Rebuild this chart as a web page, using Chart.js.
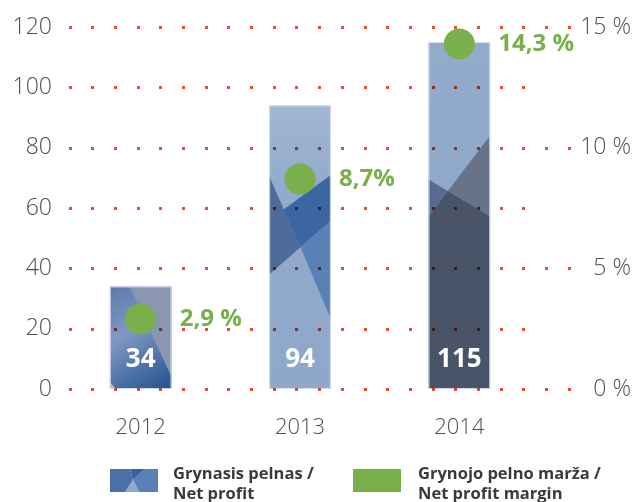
<!DOCTYPE html>
<html>
<head>
<meta charset="utf-8">
<script src="https://cdn.jsdelivr.net/npm/chart.js@4/dist/chart.umd.min.js"></script>
<style>
  body { margin: 0; background: #fff; }
  #wrap { position: relative; width: 636px; height: 502px; overflow: hidden; }
  .sw { position: absolute; top: 469px; width: 48px; height: 23px; }
  .lt { position: absolute; top: 463px; font: 700 16.5px 'Open Sans', sans-serif; line-height: 20px; color: #3a3a3a; white-space: nowrap; }
</style>
</head>
<body>
<div id="wrap">
  <canvas id="chart"></canvas>
  <svg class="sw" style="left:110px" width="48" height="23">
    <polygon points="0,0 20,0 23,11 15,23 0,23" fill="#4b6fa7"/>
    <polygon points="20,0 35,0 23,11" fill="#3464a4"/>
    <polygon points="35,0 48,0 48,23 29,23 23,11" fill="#5a80b7"/>
    <polygon points="15,23 23,11 29,23" fill="#8ea7cc"/>
  </svg>
  <div class="lt" id="lt0" style="left:173px"></div>
  <div class="sw" style="left:353px; background:#7ab04b"></div>
  <div class="lt" id="lt1" style="left:418px"></div>
</div>
<script>
let years = ['2012', '2013', '2014'];
let netProfit = [34, 94, 115];
let netMargin = [2.9, 8.7, 14.3];
let marginLabels = ['2,9 %', '8,7%', '14,3 %'];
let profitTicks = [0, 20, 40, 60, 80, 100, 120];
let marginTicks = [0, 5, 10, 15];
let legendLines = [['Grynasis pelnas /', 'Net profit'], ['Grynojo pelno marža /', 'Net profit margin']];

const GREEN = '#7ab04b';
const GREY = '#4f4f4f';

legendLines.forEach((lines, i) => {
    document.getElementById('lt' + i).innerHTML = lines.join('<br>');
});

// facet decoration inside each bar, in fractions of the bar (u across, v down)
const barStyles = [
    { grad: [[0, 0], [1, 1]], stops: [[0, '#5878ad'], [0.4, '#8199c3'], [1, '#22508f']],
      facets: [
        ['#8a97b1', [[0.32, 0], [1, 0], [1, 0.88]]],
        ['#a9b9d3', [[0, 0.93], [0.1, 1], [0, 1]]]
      ] },
    { grad: [[0, 0], [0, 1]], stops: [[0, '#a2b6d3'], [0.3, '#91aacb'], [1, '#8fa8ca']],
      facets: [
        ['#4e6b9a', [[0, 0.249], [0.508, 0.5], [0, 0.596]]],
        ['#3b66a2', [[0.234, 0.367], [1, 0.245], [1, 0.407], [0.508, 0.5]]],
        ['#5b80b5', [[0.508, 0.5], [1, 0.407], [1, 0.753]]]
      ] },
    { grad: [[0, 0], [0, 1]], stops: [[0, '#93abca'], [1, '#8ea7c8']],
      facets: [
        ['#5a6a90', [[0, 0.396], [0.313, 0.429], [0, 0.502]]],
        ['#687388', [[0.313, 0.429], [1, 0.269], [1, 0.502]]],
        ['#4a5469', [[0, 0.502], [0.313, 0.429], [1, 0.502], [1, 1], [0, 1]]]
      ] }
];

const barDecor = {
    id: 'barDecor',
    afterDatasetDraw(chart, args) {
        if (args.index !== 0) return;
        const ctx = chart.ctx;
        args.meta.data.forEach((bar, i) => {
            const p = bar.getProps(['x', 'y', 'base', 'width'], true);
            const l = p.x - p.width / 2, t = p.y, w = p.width, h = p.base - p.y;
            const st = barStyles[i];
            const pt = (u, v) => [l + u * w, t + v * h];
            ctx.save();
            ctx.beginPath();
            ctx.rect(l, t, w, h);
            ctx.clip();
            const a = pt(...st.grad[0]), b = pt(...st.grad[1]);
            const g = ctx.createLinearGradient(a[0], a[1], b[0], b[1]);
            st.stops.forEach(s => g.addColorStop(s[0], s[1]));
            ctx.fillStyle = g;
            ctx.fillRect(l, t, w, h);
            st.facets.forEach(f => {
                ctx.fillStyle = f[0];
                ctx.beginPath();
                f[1].forEach((q, k) => {
                    const c = pt(q[0], q[1]);
                    if (k) ctx.lineTo(c[0], c[1]); else ctx.moveTo(c[0], c[1]);
                });
                ctx.closePath();
                ctx.fill();
            });
            ctx.restore();
            ctx.strokeStyle = 'rgba(222,230,242,0.9)';
            ctx.lineWidth = 1;
            ctx.strokeRect(l + 0.5, t + 0.5, w - 1, h - 1);
        });

        // dotted grid, drawn over the bars
        const ys = chart.scales.y, yr = chart.scales.y1, area = chart.chartArea;
        ctx.save();
        ctx.globalCompositeOperation = 'multiply';
        ctx.fillStyle = '#e2502f';
        ys.ticks.forEach(tk => {
            const y = Math.round(ys.getPixelForValue(tk.value));
            const long = yr.ticks.some(r => Math.abs(yr.getPixelForValue(r.value) - y) < 1.5);
            const end = long ? area.right + 33 : area.right - 12;
            for (let x = area.left + 8.5; x <= end; x += 22.7) {
                ctx.fillRect(Math.round(x) - 1, y - 1, 3, 3);
            }
        });
        ctx.restore();

        // values inside the bars
        ctx.save();
        ctx.fillStyle = '#fff';
        ctx.font = "700 26px 'Open Sans'";
        ctx.textAlign = 'center';
        ctx.textBaseline = 'middle';
        args.meta.data.forEach((bar, i) => {
            const p = bar.getProps(['x', 'base'], true);
            ctx.fillText(String(netProfit[i]), p.x, p.base - 29);
        });
        ctx.restore();
    },
    afterDatasetsDraw(chart) {
        const ctx = chart.ctx;
        const meta = chart.getDatasetMeta(1);
        ctx.save();
        ctx.fillStyle = GREEN;
        ctx.font = "700 24px 'Open Sans'";
        ctx.textAlign = 'left';
        ctx.textBaseline = 'middle';
        meta.data.forEach((pt, i) => {
            ctx.fillText(marginLabels[i], pt.x + 39, pt.y);
        });
        ctx.restore();
    }
};

const noVPad = (s, w) => { s.width = w; s.paddingTop = 0; s.paddingBottom = 0; };

new Chart(document.getElementById('chart'), {
    data: {
        labels: years,
        datasets: [{
            type: 'bar',
            label: legendLines[0].join(' '),
            data: netProfit,
            yAxisID: 'y',
            backgroundColor: '#8fa8ca',
            borderWidth: 0,
            barPercentage: 0.387,
            categoryPercentage: 1,
            order: 2
        }, {
            type: 'line',
            label: legendLines[1].join(' '),
            data: netMargin,
            yAxisID: 'y1',
            showLine: false,
            pointRadius: 15.5,
            pointHoverRadius: 15.5,
            pointBackgroundColor: GREEN,
            pointBorderWidth: 0,
            clip: false,
            order: 1
        }]
    },
    options: {
        responsive: true,
        maintainAspectRatio: false,
        animation: false,
        layout: { padding: { top: 27, right: 5 } },
        plugins: { legend: { display: false }, tooltip: { enabled: false } },
        scales: {
            x: {
                grid: { display: false },
                border: { display: false },
                ticks: { color: GREY, padding: 18, font: { family: 'Open Sans', size: 22, weight: 300 } },
                afterFit: s => { s.height = 113; }
            },
            y: {
                position: 'left',
                min: 0,
                max: 120,
                grid: { display: false },
                border: { display: false },
                afterBuildTicks: s => { s.ticks = profitTicks.map(v => ({ value: v })); },
                ticks: { color: GREY, padding: 1, font: { family: 'Open Sans', size: 23, weight: 300 } },
                afterFit: s => noVPad(s, 61)
            },
            y1: {
                position: 'right',
                min: 0,
                max: 15,
                grid: { display: false },
                border: { display: false },
                afterBuildTicks: s => { s.ticks = marginTicks.map(v => ({ value: v })); },
                ticks: {
                    color: GREY, padding: 33, crossAlign: 'far',
                    font: { family: 'Open Sans', size: 23, weight: 300 },
                    callback: v => v + ' %'
                },
                afterFit: s => noVPad(s, 92)
            }
        }
    },
    plugins: [barDecor]
});
</script>
</body>
</html>
